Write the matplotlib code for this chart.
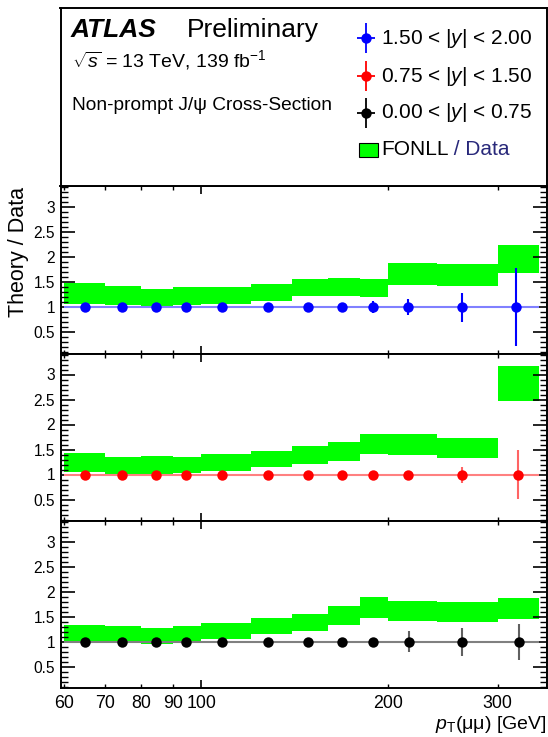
import numpy as np
import matplotlib
matplotlib.use("Agg")
import matplotlib.pyplot as plt
from matplotlib.ticker import FixedLocator, MultipleLocator, FuncFormatter
from matplotlib.patches import Rectangle

plt.rcParams['font.family'] = ['Liberation Sans', 'DejaVu Sans']
plt.rcParams['mathtext.fontset'] = 'custom'
plt.rcParams['mathtext.rm'] = 'Liberation Sans'
plt.rcParams['mathtext.it'] = 'Liberation Sans:italic'
plt.rcParams['mathtext.bf'] = 'Liberation Sans:bold'

# ---------------- data ----------------
bin_edges = [60, 70, 80, 90, 100, 120, 140, 160, 180, 200, 240, 300, 350]

rap_labels = ["1.50 < |$y$| < 2.00", "0.75 < |$y$| < 1.50", "0.00 < |$y$| < 0.75"]

# mean pT of data points in each bin
pt_fwd = [65, 74.6, 84.6, 94.6, 108, 128, 148.4, 168.6, 188.7, 215, 263, 321]
pt_mid = [65, 74.6, 84.6, 94.6, 108, 128, 148.4, 168.6, 188.7, 215, 263, 324]
pt_cen = [65, 74.6, 84.6, 94.6, 108, 128, 148.4, 168.6, 188.7, 216, 263, 325]

# data / data ratio
ratio_fwd = [1.0, 1.0, 1.0, 1.0, 1.0, 1.0, 1.0, 1.0, 1.0, 1.0, 1.0, 1.0]
ratio_mid = [1.0, 1.0, 1.0, 1.0, 1.0, 1.0, 1.0, 1.0, 1.0, 1.0, 1.0, 1.0]
ratio_cen = [1.0, 1.0, 1.0, 1.0, 1.0, 1.0, 1.0, 1.0, 1.0, 1.0, 1.0, 1.0]

# relative data uncertainty
err_fwd = [0.03, 0.03, 0.03, 0.03, 0.03, 0.04, 0.05, 0.07, 0.12, 0.16, 0.29, 0.78]
err_mid = [0.02, 0.02, 0.02, 0.02, 0.02, 0.03, 0.03, 0.04, 0.05, 0.07, 0.16, 0.49]
err_cen = [0.02, 0.02, 0.02, 0.02, 0.02, 0.03, 0.06, 0.03, 0.04, 0.21, 0.28, 0.36]

# FONLL / Data band (low, high)
fonll_lo_fwd = [1.07, 1.05, 1.01, 1.05, 1.07, 1.13, 1.22, 1.23, 1.20, 1.45, 1.43, 1.69]
fonll_hi_fwd = [1.48, 1.42, 1.37, 1.40, 1.40, 1.47, 1.57, 1.59, 1.56, 1.88, 1.86, 2.23]
fonll_lo_mid = [1.06, 1.01, 1.02, 1.03, 1.07, 1.145, 1.22, 1.28, 1.42, 1.40, 1.34, 2.465]
fonll_hi_mid = [1.44, 1.35, 1.37, 1.36, 1.41, 1.475, 1.57, 1.65, 1.82, 1.81, 1.73, 3.18]
fonll_lo_cen = [0.98, 0.975, 0.96, 0.975, 1.05, 1.15, 1.21, 1.34, 1.48, 1.42, 1.40, 1.46]
fonll_hi_cen = [1.33, 1.31, 1.27, 1.31, 1.38, 1.48, 1.55, 1.71, 1.89, 1.82, 1.80, 1.87]

x_ticks_major = [100]
x_ticks_minor = [60, 70, 80, 90, 200, 300]
y_ticks = [0.5, 1, 1.5, 2, 2.5, 3]

# ---------------- style ----------------
marker_cols = ['#0000ff', '#ff0000', '#000000']
vbar_cols = ['#0000ff', '#ff6464', '#606060']
hline_cols = ['#8080ff', '#ff8080', '#808080']
band_col = '#00ff00'

W, H = 548, 737
fig = plt.figure(figsize=(W / 100, H / 100), dpi=100)

def fx(px):
    return px / W

def fy(py):
    return 1 - py / H

frame_l, frame_r = 60.5, 546.7
panel_y = [(185.5, 353.5), (353.5, 520.5), (520.5, 688.0)]

panels = [
    (pt_fwd, ratio_fwd, err_fwd, fonll_lo_fwd, fonll_hi_fwd),
    (pt_mid, ratio_mid, err_mid, fonll_lo_mid, fonll_hi_mid),
    (pt_cen, ratio_cen, err_cen, fonll_lo_cen, fonll_hi_cen),
]

edges = np.array(bin_edges, dtype=float)
for i, ((top, bot), (pt, ratio, err, lo, hi)) in enumerate(zip(panel_y, panels)):
    ax = fig.add_axes([fx(frame_l), fy(bot), fx(frame_r) - fx(frame_l), (bot - top) / H])
    ax.set_xscale('log')
    ax.set_xlim(59.3, 360)
    ax.set_ylim(0.08, 3.42)
    ax.stairs(hi, edges, baseline=lo, fill=True, color=band_col, linewidth=0, zorder=1)
    x = np.array(pt)
    xerr = [x - edges[:-1], edges[1:] - x]
    ax.errorbar(x, ratio, xerr=xerr, fmt='none', ecolor=hline_cols[i], elinewidth=1.5, zorder=3)
    ax.errorbar(x, ratio, yerr=err, fmt='o', color=marker_cols[i], ecolor=vbar_cols[i],
                elinewidth=1.5, markersize=7.5, markeredgewidth=0, capsize=0, zorder=4)

    ax.xaxis.set_major_locator(FixedLocator(x_ticks_major))
    ax.xaxis.set_minor_locator(FixedLocator(x_ticks_minor))
    ax.yaxis.set_major_locator(FixedLocator(y_ticks))
    ax.yaxis.set_minor_locator(MultipleLocator(0.1))
    ax.yaxis.set_major_formatter(FuncFormatter(lambda v, p: f'{v:g}'))
    fmt = FuncFormatter(lambda v, p: f'{v:g}')
    ax.xaxis.set_major_formatter(fmt)
    ax.xaxis.set_minor_formatter(fmt)

    ax.tick_params(axis='both', which='both', direction='in', top=True, right=True)
    ax.tick_params(axis='y', which='major', length=10, width=1.2, labelsize=11.2, pad=4)
    ax.tick_params(axis='y', which='minor', length=5, width=1.0)
    ax.tick_params(axis='x', which='major', length=5.5, width=1.2, labelsize=12.8, pad=5)
    ax.tick_params(axis='x', which='minor', length=3, width=1.0, labelsize=12.8, pad=5)
    if i < 2:
        ax.tick_params(axis='x', which='both', labelbottom=False)
    for s in ax.spines.values():
        s.set_linewidth(1.4)

fig.text(fx(19), fy(187), 'Theory / Data', rotation=90, ha='center', va='top', fontsize=15.5)
fig.text(fx(546), fy(729), r'$p_{\mathrm{T}}$(μμ) [GeV]', ha='right', va='baseline', fontsize=14)

# ---------------- legend pad ----------------
axl = fig.add_axes([fx(frame_l), fy(185.5), fx(frame_r) - fx(frame_l), (185.5 - 8.3) / H])
axl.set_xlim(frame_l, frame_r)
axl.set_ylim(185.5, 8.3)
axl.set_xticks([])
axl.set_yticks([])
for s in axl.spines.values():
    s.set_linewidth(1.4)

axl.text(71.0, 36.7, 'ATLAS', fontsize=19, fontweight='bold', fontstyle='italic', va='baseline')
axl.text(187, 36.7, 'Preliminary', fontsize=19, va='baseline')
axl.text(71.6, 66.7, r'$\sqrt{s}$ = 13 TeV, 139 fb$^{-1}$', fontsize=14, va='baseline')
axl.text(71.6, 110, 'Non-prompt J/ψ Cross-Section', fontsize=13.8, va='baseline')

leg_rows = [38.3, 76, 113]
for lab, col, yy in zip(rap_labels, marker_cols, leg_rows):
    axl.errorbar([366.4], [yy], xerr=[9], yerr=[15], fmt='o', color=col, ecolor=col,
                 elinewidth=1.3, markersize=7.5, markeredgewidth=0, capsize=0, clip_on=False)
    axl.text(381, yy, lab, fontsize=15, va='center')

axl.add_patch(Rectangle((359.4, 142.7), 18.2, 14, facecolor=band_col, edgecolor='black', linewidth=0.8))
t1 = axl.text(381, 149.7, 'FONLL', fontsize=15, va='center')
axl.annotate(' / Data', xycoords=t1, xy=(1, 0), va='bottom', fontsize=15, color='#28287a')

fig.savefig('out.png', dpi=100)
